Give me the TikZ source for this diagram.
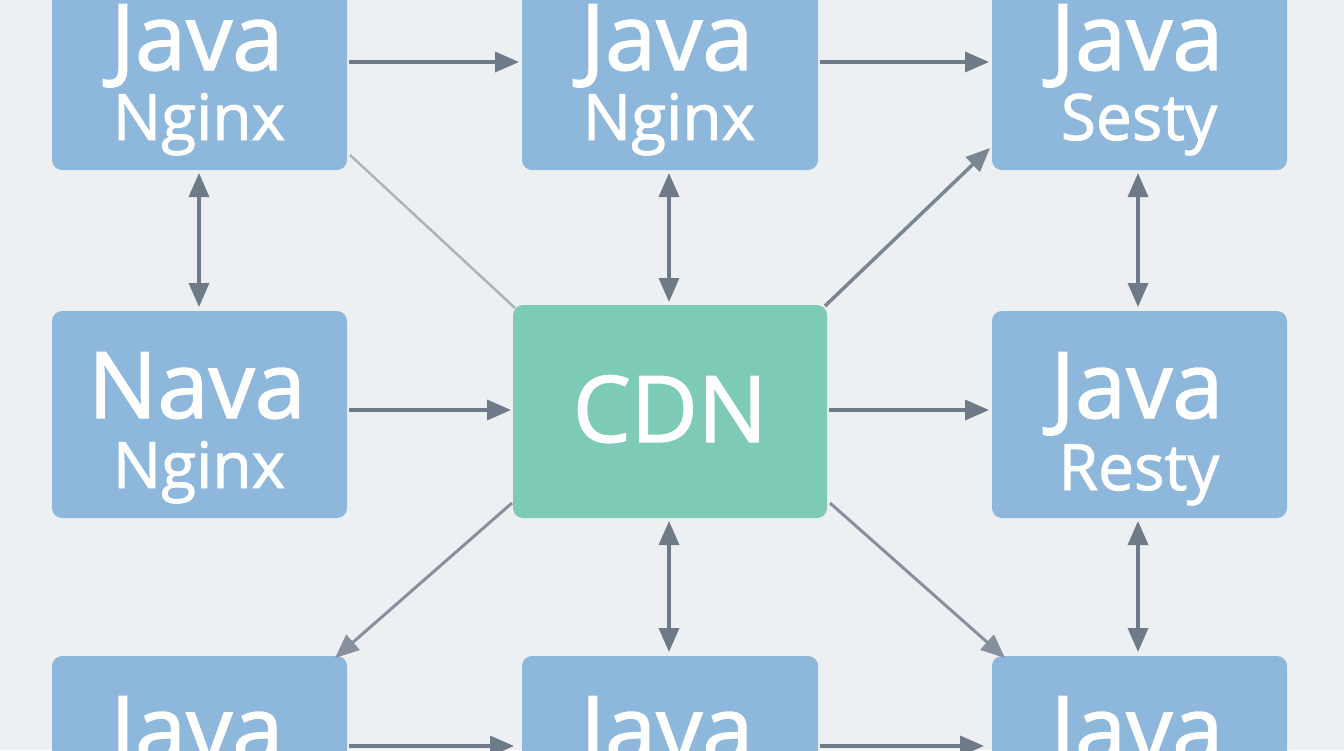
\documentclass[tikz,border=0pt]{standalone}
\usepackage{fontspec}
\setmainfont{Open Sans}[FakeBold=1.5]
\usetikzlibrary{arrows.meta}
\definecolor{bg}{HTML}{EDF0F3}
\definecolor{bx}{HTML}{8DB8DC}
\definecolor{gr}{HTML}{7DCAB6}
\definecolor{ar}{HTML}{6F7A88}
\definecolor{lt}{HTML}{AAB4BE}
\begin{document}
\begin{tikzpicture}[x=1pt,y=-1pt,
 box/.style={fill=bx,rounded corners=10pt,draw=none},
 t1/.style={text=white,anchor=base,inner sep=0pt,font=\fontsize{92}{92}\selectfont},
 t2/.style={text=white,anchor=base,inner sep=0pt,font=\fontsize{64}{64}\selectfont},
 a/.style={draw=ar,line width=3.5pt,-{Triangle[length=24pt,width=20pt]}},
 d/.style={draw=ar,line width=3.5pt,{Triangle[length=24pt,width=20pt]}-{Triangle[length=24pt,width=20pt]}}]
\useasboundingbox (0,0) rectangle (1344,750);
\clip (0,0) rectangle (1344,750);
\fill[bg] (0,0) rectangle (1344,750);
% boxes
\path[box] (52,-20) rectangle (347,170);
\path[box] (522,-20) rectangle (818,170);
\path[box] (992,-20) rectangle (1287,170);
\path[box] (52,311) rectangle (347,518);
\path[fill=gr,rounded corners=10pt] (513,305) rectangle (827,518);
\path[box] (992,311) rectangle (1287,518);
\path[box] (52,656) rectangle (347,790);
\path[box] (522,656) rectangle (818,790);
\path[box] (992,656) rectangle (1287,790);
% texts
\node[t1] (j1) at (197,70) {Java};
\node[t2] (n1) at (199,140) {Nginx};
\node[t1] (j2) at (667,70) {Java};
\node[t2] (n2) at (669,140) {Nginx};
\node[t1] (j3) at (1137,70) {Java};
\node[t2] (n3) at (1139,140) {Sesty};
\node[t1] (j4) at (197,418) {Nava};
\node[t2] (n4) at (199,488) {Nginx};
\node[t1] (cdn) at (670,442) {CDN};
\node[t1] (j6) at (1137,418) {Java};
\node[t2] (n6) at (1139,490) {Resty};
\node[t1] (j7) at (197,762) {Java};
\node[t1] (j8) at (667,762) {Java};
\node[t1] (j9) at (1137,762) {Java};
% connectors
\coordinate (p1) at (349,62); \coordinate (q1) at (519,62);
\coordinate (p2) at (820,62); \coordinate (q2) at (989,62);
\coordinate (p3) at (349,410); \coordinate (q3) at (511,410);
\coordinate (p4) at (829,410); \coordinate (q4) at (989,410);
\coordinate (p5) at (349,746); \coordinate (q5) at (514,746);
\coordinate (p6) at (820,746); \coordinate (q6) at (984,746);
\draw[a] (p1) -- (q1); \draw[a] (p2) -- (q2);
\draw[a] (p3) -- (q3); \draw[a] (p4) -- (q4);
\draw[a] (p5) -- (q5); \draw[a] (p6) -- (q6);
\coordinate (v1a) at (199,173); \coordinate (v1b) at (199,307);
\coordinate (v2a) at (669,173); \coordinate (v2b) at (669,302);
\coordinate (v3a) at (1138,173); \coordinate (v3b) at (1138,307);
\coordinate (v4a) at (669,521); \coordinate (v4b) at (669,652);
\coordinate (v5a) at (1138,521); \coordinate (v5b) at (1138,652);
\draw[d] (v1a) -- (v1b); \draw[d] (v2a) -- (v2b); \draw[d] (v3a) -- (v3b);
\draw[d] (v4a) -- (v4b); \draw[d] (v5a) -- (v5b);
\coordinate (g1) at (350,155); \coordinate (g2) at (515,308);
\draw[lt,line width=2.5pt] (g1) -- (g2);
\coordinate (g3) at (825,306); \coordinate (g4) at (990,148);
\coordinate (g5) at (512,503); \coordinate (g6) at (335,658);
\coordinate (g7) at (830,503); \coordinate (g8) at (1005,658);
\draw[a,draw=ar!80!lt] (g3) -- (g4);
\draw[a,draw=ar!60!lt,line width=3pt] (g5) -- (g6);
\draw[a,draw=ar!60!lt,line width=3pt] (g7) -- (g8);
\end{tikzpicture}
\end{document}
